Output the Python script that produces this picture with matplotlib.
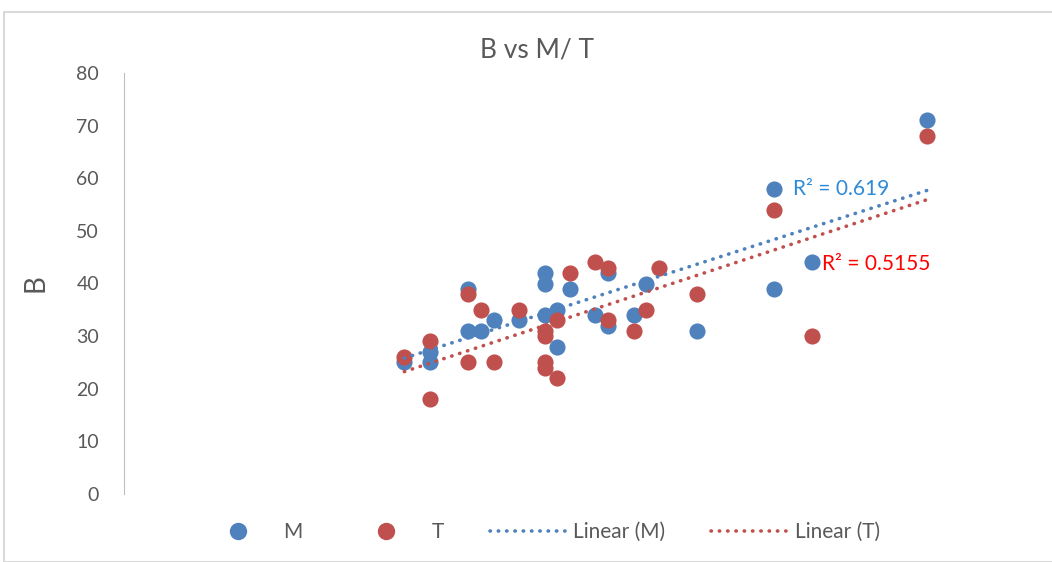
import numpy as np
import matplotlib.pyplot as plt
from matplotlib.lines import Line2D
from matplotlib.patches import Rectangle

plt.rcParams['font.family'] = ['Lato', 'DejaVu Sans']

# data
m_x = [22, 24, 24, 27, 27, 28, 29, 31, 33, 33, 33, 34, 34, 35, 37, 38, 38, 40, 41, 45, 51, 51, 54, 63]
m_y = [25, 27, 25, 39, 31, 31, 33, 33, 42, 40, 34, 35, 28, 39, 34, 42, 32, 34, 40, 31, 58, 39, 44, 71]
t_x = [22, 24, 24, 27, 27, 28, 29, 31, 33, 33, 33, 33, 34, 34, 35, 37, 38, 38, 40, 41, 42, 45, 51, 54, 63]
t_y = [26, 29, 18, 38, 25, 35, 25, 35, 31, 30, 25, 24, 33, 22, 42, 44, 43, 33, 31, 35, 43, 38, 54, 30, 68]
yticks = [0, 10, 20, 30, 40, 50, 60, 70, 80]

blue = '#4F81BD'
red = '#C0504D'
gray = '#595959'

fig = plt.figure(figsize=(10.52, 5.62), dpi=100)
ax = fig.add_axes([124 / 1052, 1 - 494 / 562, (1016 - 124) / 1052, (494 - 73) / 562])

fig.patches.append(Rectangle((4 / 1052, 0), 1.2, 1 - 12 / 562, transform=fig.transFigure,
                             fill=False, edgecolor='#D9D9D9', linewidth=1.5))

ax.scatter(m_x, m_y, s=135, color=blue, zorder=3, linewidths=0)
ax.scatter(t_x, t_y, s=135, color=red, zorder=3, linewidths=0)

# linear trend lines
for xs, ys, c in [(m_x, m_y, blue), (t_x, t_y, red)]:
    k, b = np.polyfit(xs, ys, 1)
    xx = np.array([min(xs), max(xs)])
    ax.plot(xx, k * xx + b, color=c, linewidth=2.6, dashes=(0.1, 2.2),
            dash_capstyle='round', zorder=4)

ax.text(52.5, 58, 'R² = 0.619', color='#2E8BD6', fontsize=15, va='center')
ax.text(54.8, 43.8, 'R² = 0.5155', color='#FF0000', fontsize=15, va='center')

ax.set_xlim(0, 70)
ax.set_ylim(0, 80)
ax.set_yticks(yticks)
ax.set_xticks([])
for s in ['top', 'right', 'bottom']:
    ax.spines[s].set_visible(False)
ax.spines['left'].set_color('#BFBFBF')
ax.tick_params(axis='y', length=0, labelsize=14, labelcolor=gray, pad=18)
ax.set_ylabel('B', fontsize=20, color=gray, labelpad=20)

fig.text(537 / 1052, 1 - 50 / 562, 'B vs M/ T', ha='center', va='center', fontsize=19, color=gray)

handles = [
    Line2D([], [], marker='o', linestyle='none', markersize=11.5, color=blue),
    Line2D([], [], marker='o', linestyle='none', markersize=11.5, color=red),
    Line2D([], [], color=blue, linewidth=2.6, dashes=(0.1, 2.2), dash_capstyle='round'),
    Line2D([], [], color=red, linewidth=2.6, dashes=(0.1, 2.2), dash_capstyle='round'),
]
labels = ['M', 'T', 'Linear (M)', 'Linear (T)']
leg = fig.legend(handles, labels, loc='center', bbox_to_anchor=(540 / 1052, 1 - 532 / 562),
                 ncol=4, frameon=False, fontsize=15, handlelength=3.6,
                 handletextpad=0.4, columnspacing=2.2)
for t in leg.get_texts():
    t.set_color(gray)

fig.savefig('out.png', dpi=100)
